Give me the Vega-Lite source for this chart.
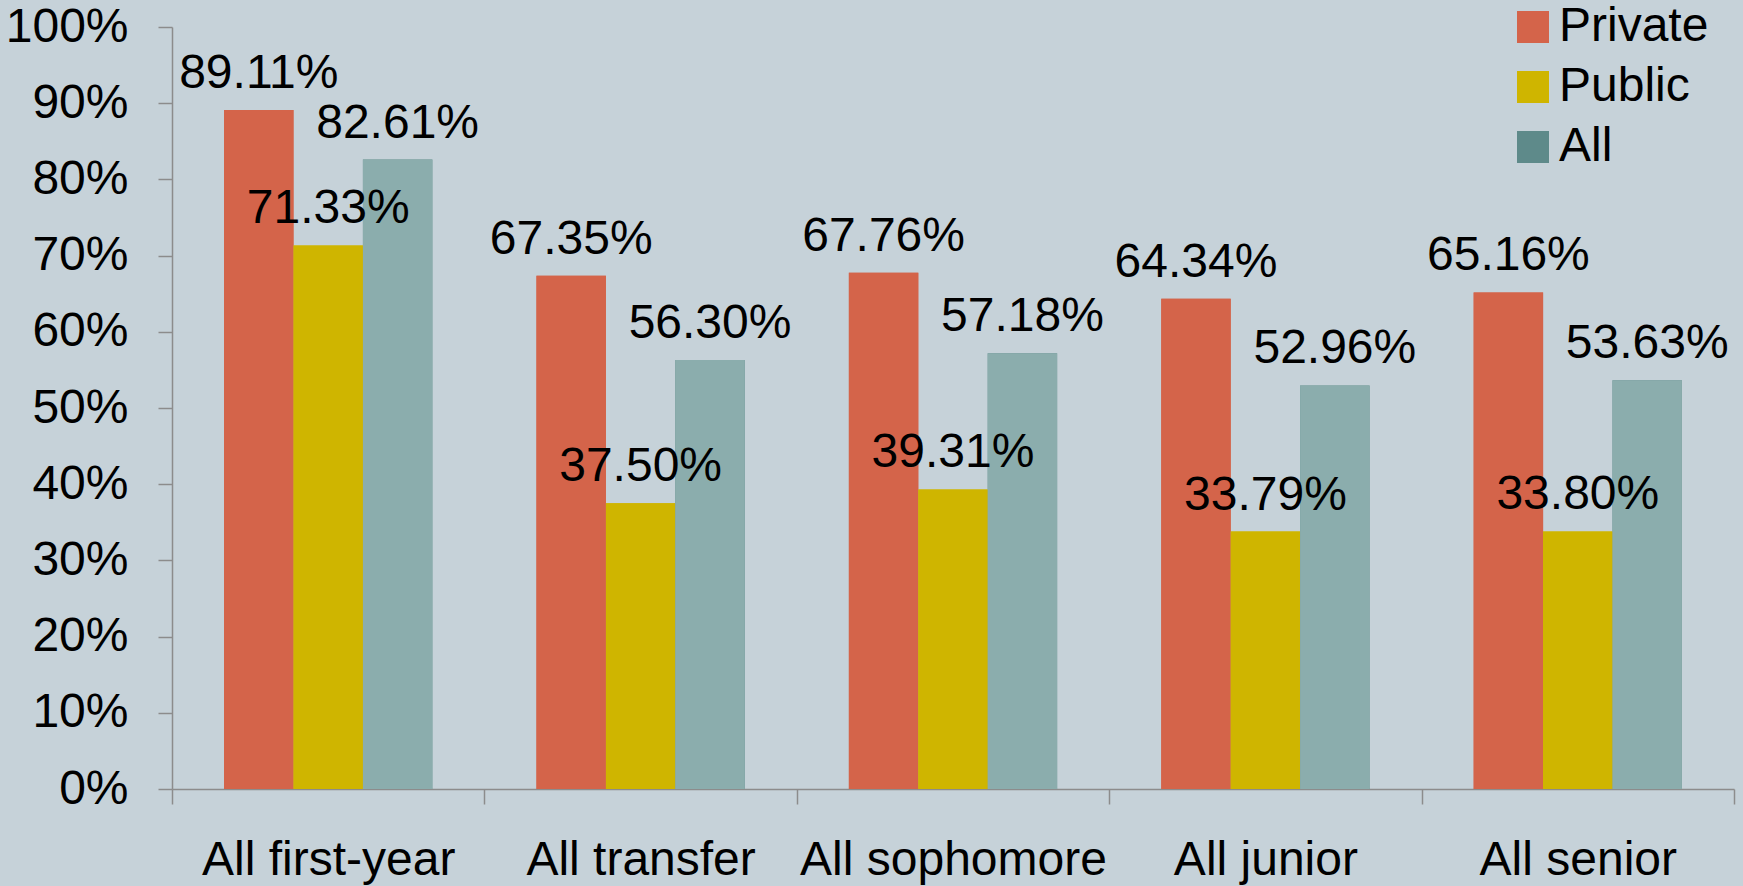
{
  "$schema": "https://vega.github.io/schema/vega-lite/v6.json",
  "width": 1562,
  "height": 762,
  "autosize": {"type": "none"},
  "padding": {"left": 172, "top": 27, "right": 9, "bottom": 97},
  "background": "#c6d2d9",
  "config": {
    "view": {"stroke": null},
    "font": "Liberation Sans",
    "axis": {"grid": false}
  },
  "data": {
    "values": [
      {"category": "All first-year", "group": "Private", "value": 0.8911},
      {"category": "All first-year", "group": "Public", "value": 0.7133},
      {"category": "All first-year", "group": "All", "value": 0.8261},
      {"category": "All transfer", "group": "Private", "value": 0.6735},
      {"category": "All transfer", "group": "Public", "value": 0.3750},
      {"category": "All transfer", "group": "All", "value": 0.5630},
      {"category": "All sophomore", "group": "Private", "value": 0.6776},
      {"category": "All sophomore", "group": "Public", "value": 0.3931},
      {"category": "All sophomore", "group": "All", "value": 0.5718},
      {"category": "All junior", "group": "Private", "value": 0.6434},
      {"category": "All junior", "group": "Public", "value": 0.3379},
      {"category": "All junior", "group": "All", "value": 0.5296},
      {"category": "All senior", "group": "Private", "value": 0.6516},
      {"category": "All senior", "group": "Public", "value": 0.3380},
      {"category": "All senior", "group": "All", "value": 0.5363}
    ]
  },
  "encoding": {
    "x": {
      "field": "category",
      "type": "nominal",
      "sort": null,
      "scale": {"paddingInner": 0, "paddingOuter": 0},
      "axis": {
        "title": null,
        "labelAngle": 0,
        "labelLimit": 0,
        "labelFontSize": 48,
        "labelColor": "#000000",
        "labelPadding": 32,
        "tickSize": 15,
        "tickBand": "extent",
        "tickColor": "#8c8c8c",
        "tickWidth": 1.5,
        "domainColor": "#8c8c8c",
        "domainWidth": 1.5
      }
    },
    "xOffset": {
      "field": "group",
      "type": "nominal",
      "sort": ["Private", "Public", "All"],
      "scale": {"paddingInner": 0, "paddingOuter": 0.75}
    },
    "y": {
      "field": "value",
      "type": "quantitative",
      "scale": {"domain": [0, 1], "nice": false},
      "axis": {
        "title": null,
        "format": ".0%",
        "values": [0, 0.1, 0.2, 0.3, 0.4, 0.5, 0.6, 0.7, 0.8, 0.9, 1],
        "labelFontSize": 48,
        "labelColor": "#000000",
        "labelPadding": 30,
        "tickSize": 14,
        "tickColor": "#8c8c8c",
        "tickWidth": 1.5,
        "domainColor": "#8c8c8c",
        "domainWidth": 1.5
      }
    }
  },
  "layer": [
    {
      "mark": {"type": "bar"},
      "encoding": {
        "color": {
          "field": "group",
          "type": "nominal",
          "scale": {
            "domain": ["Private", "Public", "All"],
            "range": ["#d4644a", "#cfb500", "#5e8a8a"]
          },
          "legend": {
            "title": null,
            "orient": "none",
            "legendX": 1337,
            "legendY": -24,
            "symbolType": "square",
            "symbolSize": 1024,
            "symbolStrokeWidth": 0,
            "symbolOpacity": 1,
            "labelFontSize": 48,
            "labelColor": "#000000",
            "labelOffset": 2,
            "rowPadding": 12
          }
        }
      }
    },
    {
      "mark": {"type": "bar"},
      "encoding": {
        "fill": {
          "field": "group",
          "type": "nominal",
          "scale": {
            "domain": ["Private", "Public", "All"],
            "range": ["#d4644a", "#cfb500", "#8badad"]
          },
          "legend": null
        }
      }
    },
    {
      "mark": {"type": "text", "fontSize": 48, "color": "#000000", "baseline": "middle", "dy": -36},
      "encoding": {
        "text": {"field": "value", "type": "quantitative", "format": ".2%"}
      }
    }
  ]
}
